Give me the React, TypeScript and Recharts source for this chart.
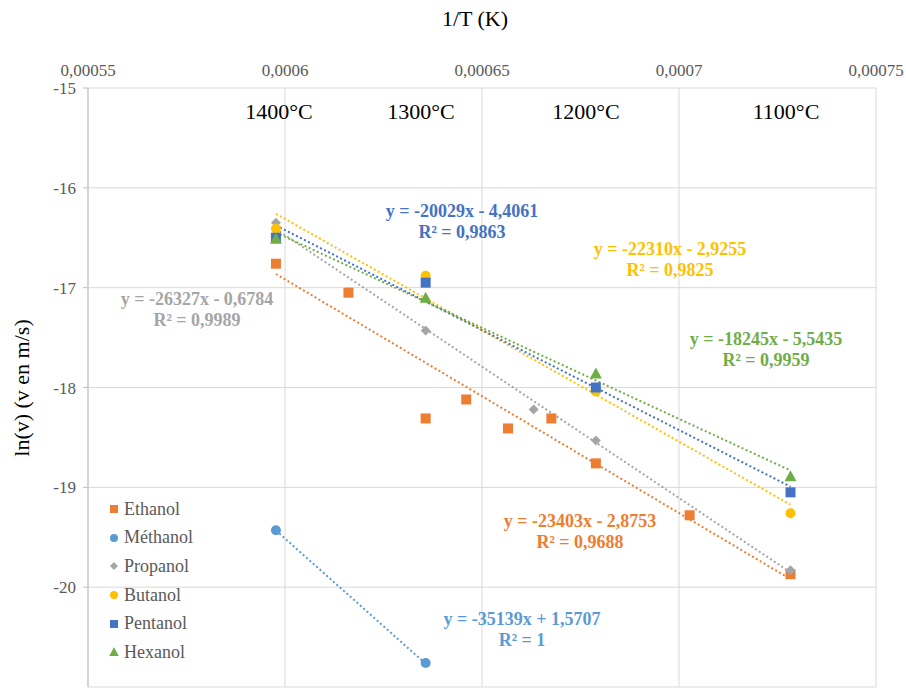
import React from 'react'
import { ScatterChart, Scatter, XAxis, YAxis, CartesianGrid } from 'recharts'

// axes
const xTicks = [0.00055, 0.0006, 0.00065, 0.0007, 0.00075]
const yTicks = [-21, -20, -19, -18, -17, -16, -15]

// 1/T values (K^-1)
const x4 = [0.0005977, 0.0006357, 0.0006789, 0.0007283]
const ethanolX = [0.0005977, 0.0006161, 0.0006357, 0.000646, 0.0006566, 0.0006676, 0.0006789, 0.0007027, 0.0007283]
const ethanolY = [-16.76, -17.05, -18.31, -18.12, -18.41, -18.31, -18.76, -19.28, -19.87]
const methanolX = [0.0005977, 0.0006357]
const methanolY = [-19.43, -20.76]
const propanolX = [0.0005977, 0.0006357, 0.0006631, 0.0006789, 0.0007283]
const propanolY = [-16.35, -17.43, -18.22, -18.53, -19.83]
const butanolY = [-16.41, -16.88, -18.04, -19.26]
const pentanolY = [-16.5, -16.95, -18.0, -19.05]
const hexanolY = [-16.51, -17.1, -17.86, -18.89]

// trendline end points (from the equations shown)
const trendX = [0.0005977, 0.0007283]
const ethanolTrend = [-16.863, -19.92]
const methanolTrend = [-19.432, -20.767]
const propanolTrend = [-16.414, -19.852]
const butanolTrend = [-16.26, -19.174]
const pentanolTrend = [-16.377, -18.993]
const hexanolTrend = [-16.448, -18.831]

const tempLabels = ['1400°C', '1300°C', '1200°C', '1100°C']

const pts = (xs: number[], ys: number[]) => xs.map((x, i) => ({ x, y: ys[i] }))

type Kind = 'square' | 'circle' | 'diamond' | 'triangle'

const series: { name: string; color: string; kind: Kind; data: any[]; trend: any[]; eq: string; r2: string; pos: [number, number] }[] = [
  { name: 'Ethanol', color: '#ED7D31', kind: 'square', data: pts(ethanolX, ethanolY), trend: pts(trendX, ethanolTrend), eq: 'y = -23403x - 2,8753', r2: 'R² = 0,9688', pos: [580, 522] },
  { name: 'Méthanol', color: '#5B9BD5', kind: 'circle', data: pts(methanolX, methanolY), trend: pts(methanolX, methanolTrend), eq: 'y = -35139x + 1,5707', r2: 'R² = 1', pos: [522, 620] },
  { name: 'Propanol', color: '#A5A5A5', kind: 'diamond', data: pts(propanolX, propanolY), trend: pts(trendX, propanolTrend), eq: 'y = -26327x - 0,6784', r2: 'R² = 0,9989', pos: [197, 300] },
  { name: 'Butanol', color: '#FFC000', kind: 'circle', data: pts(x4, butanolY), trend: pts(trendX, butanolTrend), eq: 'y = -22310x - 2,9255', r2: 'R² = 0,9825', pos: [670, 250] },
  { name: 'Pentanol', color: '#4472C4', kind: 'square', data: pts(x4, pentanolY), trend: pts(trendX, pentanolTrend), eq: 'y = -20029x - 4,4061', r2: 'R² = 0,9863', pos: [462, 212] },
  { name: 'Hexanol', color: '#70AD47', kind: 'triangle', data: pts(x4, hexanolY), trend: pts(trendX, hexanolTrend), eq: 'y = -18245x - 5,5435', r2: 'R² = 0,9959', pos: [766, 340] }
]

const Mark = ({ cx, cy, kind, color, s = 1 }: any) => {
  if (cx == null || cy == null) return null
  if (kind === 'square') return <rect x={cx - 5 * s} y={cy - 5 * s} width={10 * s} height={10 * s} fill={color} />
  if (kind === 'circle') return <circle cx={cx} cy={cy} r={5 * s} fill={color} />
  if (kind === 'diamond') return <path d={`M${cx},${cy - 5 * s}L${cx + 5 * s},${cy}L${cx},${cy + 5 * s}L${cx - 5 * s},${cy}Z`} fill={color} />
  return <path d={`M${cx},${cy - 6 * s}L${cx + 6 * s},${cy + 5 * s}L${cx - 6 * s},${cy + 5 * s}Z`} fill={color} />
}

const fmt = (v: number) => String(v).replace('.', ',')
const FONT = "'Liberation Serif', serif"

export default function App () {
  return (
    <div style={{ position: 'absolute', left: 0, top: 0, width: 906, height: 695, background: '#fff', fontFamily: FONT }}>
      <ScatterChart width={906} height={695} margin={{ top: 58, right: 30, bottom: 8, left: 28 }} style={{ fontFamily: FONT }}>
        <CartesianGrid stroke='#d9d9d9' strokeWidth={1} />
        <XAxis
          type='number'
          dataKey='x'
          orientation='top'
          height={30}
          domain={[0.00055, 0.00075]}
          ticks={xTicks}
          tickFormatter={fmt}
          axisLine={false}
          tickLine={false}
          tickSize={0}
          tickMargin={12}
          tick={{ fill: '#595959', fontSize: 17, fontFamily: FONT }}
        />
        <YAxis
          type='number'
          dataKey='y'
          width={60}
          domain={[-21, -15]}
          ticks={yTicks}
          axisLine={{ stroke: '#bfbfbf' }}
          tickLine={{ stroke: '#bfbfbf' }}
          tickSize={5}
          tickMargin={7}
          tick={{ fill: '#595959', fontSize: 17, fontFamily: FONT }}
        />
        {series.map(s => (
          <Scatter
            key={s.name + '-trend'}
            data={s.trend}
            line={{ stroke: s.color, strokeWidth: 2, strokeDasharray: '2 2.5' }}
            shape={() => null}
            isAnimationActive={false}
          />
        ))}
        {series.map(s => (
          <Scatter
            key={s.name}
            name={s.name}
            data={s.data}
            shape={(p: any) => <Mark cx={p.cx} cy={p.cy} kind={s.kind} color={s.color} />}
            isAnimationActive={false}
          />
        ))}
      </ScatterChart>

      <div style={{ position: 'absolute', left: 0, width: 906, top: 6, textAlign: 'center', fontSize: 22, color: '#000', paddingLeft: 44, boxSizing: 'border-box' }}>
        1/T (K)
      </div>
      <div style={{ position: 'absolute', left: 22, top: 388, transform: 'translate(-50%, -50%) rotate(-90deg)', fontSize: 22, whiteSpace: 'nowrap', color: '#000' }}>
        ln(v) (v en m/s)
      </div>

      {tempLabels.map((t, i) => (
        <div key={t} style={{ position: 'absolute', left: [279, 421, 586, 786][i], top: 112, transform: 'translate(-50%, -50%)', fontSize: 22, whiteSpace: 'nowrap', color: '#000' }}>
          {t}
        </div>
      ))}

      {series.map(s => (
        <div key={s.name + '-eq'} style={{ position: 'absolute', left: s.pos[0], top: s.pos[1] - 11, transform: 'translateX(-50%)', fontSize: 18, fontWeight: 'bold', color: s.color, textAlign: 'center', lineHeight: '21px', whiteSpace: 'nowrap' }}>
          <div>{s.eq}</div>
          <div>{s.r2}</div>
        </div>
      ))}

      <div style={{ position: 'absolute', left: 108, top: 495 }}>
        {series.map(s => (
          <div key={s.name + '-lg'} style={{ display: 'flex', alignItems: 'center', height: 28.6, fontSize: 18, color: '#595959' }}>
            <svg width={12} height={12} style={{ marginRight: 4 }}>
              <Mark cx={6} cy={6} kind={s.kind} color={s.color} s={0.8} />
            </svg>
            {s.name}
          </div>
        ))}
      </div>
    </div>
  )
}
